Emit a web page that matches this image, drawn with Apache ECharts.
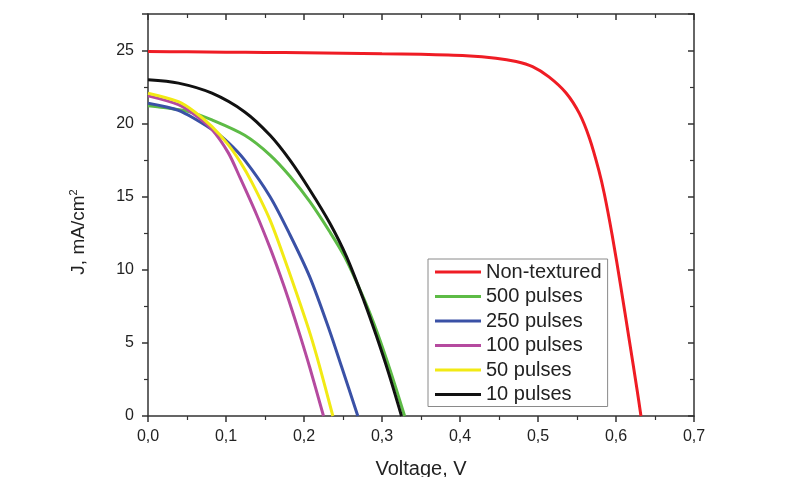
<!DOCTYPE html>
<html>
<head>
<meta charset="utf-8">
<script src="https://cdn.jsdelivr.net/npm/echarts@6/dist/echarts.min.js"></script>
<style>
html,body{margin:0;padding:0;background:#fff;}
#chart{width:790px;height:477px;}
</style>
</head>
<body>
<div id="chart"></div>
<script>
// ---- Data (Voltage in V, current density J in mA/cm^2) ----
const seriesNames = ['Non-textured', '500 pulses', '250 pulses', '100 pulses', '50 pulses', '10 pulses'];
const seriesColors = ['#ef1c24', '#5dbb46', '#3a51a6', '#b54a9f', '#f2ea14', '#111111'];

const nonTexturedV = [0, 0.05, 0.1, 0.15, 0.2, 0.25, 0.3, 0.35, 0.408, 0.446, 0.472, 0.493, 0.514, 0.536, 0.553, 0.566, 0.578, 0.585, 0.595, 0.606, 0.617, 0.627, 0.632];
const nonTexturedJ = [24.93, 24.91, 24.89, 24.87, 24.85, 24.82, 24.78, 24.74, 24.64, 24.48, 24.25, 23.9, 23.2, 22.1, 20.7, 19.0, 16.8, 15.2, 12.4, 8.9, 5.2, 1.8, 0];

const p500V = [0, 0.02, 0.052, 0.082, 0.124, 0.1565, 0.182, 0.2075, 0.233, 0.252, 0.277, 0.294, 0.311, 0.329];
const p500J = [21.23, 21.1, 20.82, 20.25, 19.2, 17.85, 16.4, 14.66, 12.6, 10.9, 8.0, 5.7, 3.05, 0];

const p250V = [0, 0.039, 0.082, 0.103, 0.124, 0.1565, 0.182, 0.2075, 0.233, 0.248, 0.269];
const p250J = [21.4, 20.9, 19.6, 18.7, 17.5, 15.0, 12.4, 9.5, 5.8, 3.4, 0];

const p100V = [0, 0.039, 0.060, 0.082, 0.103, 0.118, 0.139, 0.1565, 0.169, 0.180, 0.195, 0.2075, 0.225];
const p100J = [21.9, 21.3, 20.6, 19.6, 18.0, 16.3, 13.8, 11.5, 9.7, 8.0, 5.5, 3.3, 0];

const p50V = [0, 0.039, 0.060, 0.082, 0.103, 0.118, 0.133, 0.1565, 0.178, 0.193, 0.208, 0.220, 0.237];
const p50J = [22.08, 21.5, 20.8, 19.8, 18.55, 17.4, 16.0, 13.4, 10.3, 8.0, 5.6, 3.4, 0];

const p10V = [0, 0.039, 0.082, 0.124, 0.1565, 0.182, 0.2075, 0.233, 0.2545, 0.277, 0.293, 0.309, 0.325];
const p10J = [23.0, 22.77, 22.08, 20.8, 19.2, 17.5, 15.46, 13.2, 10.9, 7.86, 5.45, 2.85, 0];

const xTicks = [0, 0.1, 0.2, 0.3, 0.4, 0.5, 0.6, 0.7];
const yTicks = [0, 5, 10, 15, 20, 25];

const allV = [nonTexturedV, p500V, p250V, p100V, p50V, p10V];
const allJ = [nonTexturedJ, p500J, p250J, p100J, p50J, p10J];

// ---- Chart ----
const chart = echarts.init(document.getElementById('chart'), null, {renderer: 'canvas'});
const font = 'Liberation Sans, Arial, sans-serif';
const axisColor = '#333';

function pairs(vs, js) { return vs.map((v, i) => [v, js[i]]); }

const series = seriesNames.map((name, i) => ({
  name: name,
  type: 'line',
  data: pairs(allV[i], allJ[i]),
  smooth: 0.3,
  showSymbol: false,
  symbol: 'none',
  clip: true,
  lineStyle: {color: seriesColors[i], width: 3},
  itemStyle: {color: seriesColors[i]},
  z: 2 + i
}));

const option = {
  animation: false,
  backgroundColor: '#fff',
  grid: {left: 148, right: 96, top: 14, bottom: 61, containLabel: false, outerBoundsMode: 'none'},
  legend: {
    orient: 'vertical',
    left: 428,
    top: 259,
    data: seriesNames,
    icon: 'rect',
    itemWidth: 46,
    itemHeight: 3,
    itemGap: 4.5,
    padding: [3, 6, 2, 7],
    borderColor: '#8a8a8a',
    borderWidth: 1,
    backgroundColor: '#fff',
    textStyle: {fontFamily: font, fontSize: 20, color: '#222', lineHeight: 20}
  },
  xAxis: [{
    type: 'value',
    position: 'bottom',
    min: xTicks[0],
    max: xTicks[xTicks.length - 1],
    interval: 0.1,
    name: 'Voltage, V',
    nameLocation: 'middle',
    nameGap: 43,
    nameTextStyle: {fontFamily: font, fontSize: 20, color: '#222'},
    axisLine: {show: true, onZero: false, lineStyle: {color: axisColor, width: 1.5}},
    axisTick: {show: true, inside: false, length: 6, lineStyle: {color: axisColor, width: 1.5}},
    minorTick: {show: true, splitNumber: 2, length: 4, lineStyle: {color: axisColor, width: 1.2}},
    splitLine: {show: false},
    axisLabel: {
      fontFamily: font, fontSize: 16, color: '#222', margin: 13,
      formatter: v => v.toFixed(1).replace('.', ',')
    }
  }, {
    type: 'value',
    position: 'top',
    min: xTicks[0],
    max: xTicks[xTicks.length - 1],
    interval: 0.1,
    axisLine: {show: true, onZero: false, lineStyle: {color: axisColor, width: 1.5}},
    axisTick: {show: true, inside: true, length: 6, lineStyle: {color: axisColor, width: 1.5}},
    minorTick: {show: true, splitNumber: 2, length: 4, lineStyle: {color: axisColor, width: 1.2}},
    splitLine: {show: false},
    axisLabel: {show: false}
  }],
  yAxis: [{
    type: 'value',
    position: 'left',
    min: 0,
    max: 27.5,
    interval: 5,
    name: 'J, mA/cm{sup|2}',
    nameLocation: 'middle',
    nameGap: 58,
    nameRotate: 90,
    nameTextStyle: {
      fontFamily: font, fontSize: 19, color: '#222',
      padding: [0, 34, 0, 0],
      rich: {sup: {fontFamily: font, fontSize: 11, color: '#222', verticalAlign: 'top', lineHeight: 22, padding: [0, 0, 10, 0]}}
    },
    axisLine: {show: true, onZero: false, lineStyle: {color: axisColor, width: 1.5}},
    axisTick: {show: true, inside: false, length: 6, lineStyle: {color: axisColor, width: 1.5}},
    minorTick: {show: true, splitNumber: 2, length: 4, lineStyle: {color: axisColor, width: 1.2}},
    splitLine: {show: false},
    axisLabel: {
      fontFamily: font, fontSize: 16, color: '#222', margin: 14,
      showMaxLabel: false,
      formatter: v => (yTicks.indexOf(v) >= 0 ? String(v) : '')
    }
  }, {
    type: 'value',
    position: 'right',
    min: 0,
    max: 27.5,
    interval: 5,
    axisLine: {show: true, onZero: false, lineStyle: {color: axisColor, width: 1.5}},
    axisTick: {show: true, inside: true, length: 6, lineStyle: {color: axisColor, width: 1.5}},
    minorTick: {show: true, splitNumber: 2, length: 4, lineStyle: {color: axisColor, width: 1.2}},
    splitLine: {show: false},
    axisLabel: {show: false}
  }],
  series: series
};
chart.setOption(option);
</script>
</body>
</html>
